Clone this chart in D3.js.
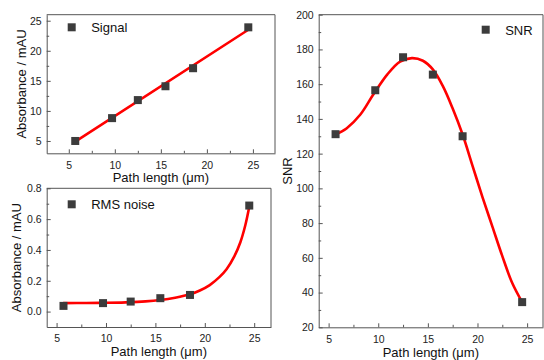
<!DOCTYPE html>
<html>
<head>
<meta charset="utf-8">
<script src="https://cdn.jsdelivr.net/npm/d3@7/dist/d3.min.js"></script>
<style>
  body { margin: 0; background: #fff; }
  svg { display: block; font-family: "Liberation Sans", Arial, sans-serif; }
  .tick text { fill: #222; }
</style>
</head>
<body>
<svg id="chart" width="544" height="360"></svg>
<script>
// path lengths (um) shared by all three panels
var pathLength = [5.7, 9.7, 12.5, 15.5, 18.5, 24.5];

var signal = [5.0, 8.8, 11.8, 14.1, 17.1, 23.9];
var rmsNoise = [0.037, 0.055, 0.065, 0.087, 0.108, 0.688];
var snr = [131.2, 156.5, 175.5, 165.5, 130.0, 34.5];

// fitted curves as [x, y]
var signalFit = [[5.7, 4.9], [24.5, 23.5]];
var noiseFit = [[5.7, 0.055], [8, 0.056], [10, 0.057], [12, 0.060], [14, 0.066], [15.5, 0.075],
    [17, 0.090], [18.5, 0.112], [19.5, 0.137], [20.5, 0.172], [21.5, 0.225], [22.2, 0.275],
    [23, 0.36], [23.6, 0.45], [24.1, 0.56], [24.5, 0.68]];
var snrFit = [[5.7, 131], [6.8, 134.5], [8.2, 142.5], [9.5, 154], [10.9, 165.5], [12.2, 173],
    [13.4, 175], [14.5, 173.5], [15.5, 168.5], [16.5, 159], [17.5, 146], [18.5, 131],
    [19.5, 113], [20.5, 95], [21.5, 78], [22.5, 61], [23.5, 45.5], [24.5, 34.5]];

var xTicks = [5, 10, 15, 20, 25];
var xMinor = [7.5, 12.5, 17.5, 22.5];

var panels = [
    {
        left: 46.7, right: 275, top: 14.7, bottom: 153.3,
        xDomain: [2.6, 27.4], yDomain: [2.95, 26],
        yTicks: [5, 10, 15, 20, 25], yMinor: [7.5, 12.5, 17.5, 22.5],
        yFormat: d3.format("d"),
        values: signal, fit: signalFit, curve: d3.curveLinear,
        legend: "Signal", legendX: 71.7, legendY: 27.3,
        yLabel: "Absorbance / mAU", yLabelX: 26, xLabelY: 182
    },
    {
        left: 46.7, right: 271, top: 188.3, bottom: 327,
        xDomain: [4, 26.7], yDomain: [-0.1, 0.8],
        yTicks: [0, 0.2, 0.4, 0.6, 0.8], yMinor: [0.1, 0.3, 0.5, 0.7],
        yFormat: d3.format(".1f"),
        values: rmsNoise, fit: noiseFit, curve: d3.curveCatmullRom,
        legend: "RMS noise", legendX: 71.7, legendY: 204.3,
        yLabel: "Absorbance / mAU", yLabelX: 21, xLabelY: 356
    },
    {
        left: 318.7, right: 543, top: 14.7, bottom: 327.3,
        xDomain: [4, 26.6], yDomain: [20, 200],
        yTicks: [20, 40, 60, 80, 100, 120, 140, 160, 180, 200],
        yMinor: [30, 50, 70, 90, 110, 130, 150, 170, 190],
        yFormat: d3.format("d"),
        values: snr, fit: snrFit, curve: d3.curveCatmullRom,
        legend: "SNR", legendX: 485.7, legendY: 29.7,
        yLabel: "SNR", yLabelX: 292, xLabelY: 357
    }
];

var svg = d3.select("#chart");

panels.forEach(function(p){
    var x = d3.scaleLinear().domain(p.xDomain).range([p.left, p.right]);
    var y = d3.scaleLinear().domain(p.yDomain).range([p.bottom, p.top]);
    var g = svg.append("g");

    // frame (top and right)
    g.append("path")
        .attr("d", "M" + p.left + "," + p.top + "H" + p.right + "V" + p.bottom)
        .attr("fill", "none")
        .attr("stroke", "#555")
        .attr("stroke-width", 1);

    // minor ticks
    g.append("g")
        .attr("transform", "translate(0," + p.bottom + ")")
        .call(d3.axisBottom(x).tickValues(xMinor).tickSize(-2.5).tickFormat(""))
        .call(function(a){ a.select(".domain").remove(); });
    g.append("g")
        .attr("transform", "translate(" + p.left + ",0)")
        .call(d3.axisLeft(y).tickValues(p.yMinor).tickSize(-2.5).tickFormat(""))
        .call(function(a){ a.select(".domain").remove(); });

    // major axes
    g.append("g")
        .attr("transform", "translate(0," + p.bottom + ")")
        .call(d3.axisBottom(x).tickValues(xTicks).tickSize(-4).tickPadding(8).tickSizeOuter(0))
        .attr("font-size", "10.5px")
        .attr("font-family", null);
    g.append("g")
        .attr("transform", "translate(" + p.left + ",0)")
        .call(d3.axisLeft(y).tickValues(p.yTicks).tickSize(-4).tickPadding(5).tickSizeOuter(0)
            .tickFormat(p.yFormat))
        .attr("font-size", "10.5px")
        .attr("font-family", null);

    g.selectAll(".domain, .tick line").attr("stroke", "#555");

    // fit curve
    var line = d3.line()
        .x(function(d){ return x(d[0]); })
        .y(function(d){ return y(d[1]); })
        .curve(p.curve);
    g.append("path")
        .datum(p.fit)
        .attr("d", line)
        .attr("fill", "none")
        .attr("stroke", "#ff0000")
        .attr("stroke-width", 2.6)
        .attr("stroke-linecap", "round");

    // data markers
    g.selectAll("rect.pt")
        .data(p.values)
        .enter().append("rect")
        .attr("class", "pt")
        .attr("x", function(d, i){ return x(pathLength[i]) - 4; })
        .attr("y", function(d){ return y(d) - 4; })
        .attr("width", 8)
        .attr("height", 8)
        .attr("fill", "#3c3c3c");

    // legend
    g.append("rect")
        .attr("x", p.legendX - 4)
        .attr("y", p.legendY - 4)
        .attr("width", 8)
        .attr("height", 8)
        .attr("fill", "#3c3c3c");
    g.append("text")
        .attr("x", p.legendX + 19.5)
        .attr("y", p.legendY + 4.8)
        .attr("font-size", "13px")
        .attr("fill", "#111")
        .text(p.legend);

    // axis titles
    g.append("text")
        .attr("x", (p.left + p.right) / 2)
        .attr("y", p.xLabelY)
        .attr("text-anchor", "middle")
        .attr("font-size", "13px")
        .attr("fill", "#111")
        .text("Path length (\u03bcm)");
    g.append("text")
        .attr("transform", "translate(" + p.yLabelX + "," + (p.top + p.bottom) / 2 + ") rotate(-90)")
        .attr("text-anchor", "middle")
        .attr("font-size", "13px")
        .attr("fill", "#111")
        .text(p.yLabel);
});
</script>
</body>
</html>
